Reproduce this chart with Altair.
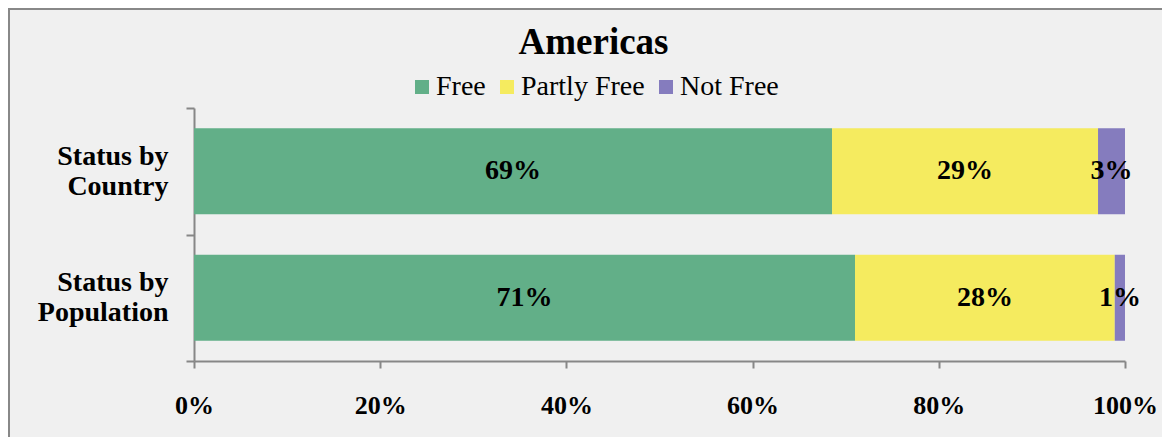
import altair as alt
import pandas as pd

categories = ["Status by Country", "Status by Population"]
statuses = ["Free", "Partly Free", "Not Free"]
country_values = [68.6, 28.6, 2.9]
population_values = [71.0, 27.9, 1.1]
colors = ["#62AF88", "#F5EB5F", "#857CBE"]
x_ticks = [0, 0.2, 0.4, 0.6, 0.8, 1.0]

rows = []
for cat, vals in zip(categories, [country_values, population_values]):
    for i, (s, v) in enumerate(zip(statuses, vals)):
        rows.append({"category": cat, "status": s, "order": i, "value": v})
df = pd.DataFrame(rows)

FONT = "Liberation Serif"
GRAY = "#878787"

base = alt.Chart(df).transform_stack(
    stack="value",
    groupby=["category"],
    as_=["v0", "v1"],
    sort=[alt.SortField("order", "ascending")],
    offset="normalize",
).transform_calculate(
    mid="(datum.v0 + datum.v1) / 2",
    label="format(round(datum.value), 'd') + '%'",
)

y_enc = alt.Y(
    "category:N",
    sort=categories,
    scale=alt.Scale(paddingInner=0, paddingOuter=0),
    axis=alt.Axis(
        title=None,
        tickBand="extent",
        tickSize=8,
        tickColor=GRAY,
        tickWidth=2,
        domainColor=GRAY,
        domainWidth=2,
        labelFont=FONT,
        labelFontSize=28,
        labelFontWeight="bold",
        labelColor="black",
        labelPadding=18,
        labelAlign="right",
        labelBaseline="middle",
        labelLineHeight=30,
        labelOffset=-15,
        labelExpr="datum.label ? ['Status by', replace(datum.label, 'Status by ', '')] : ''",
    ),
)

x_axis = alt.Axis(
    title=None,
    values=x_ticks,
    format=".0%",
    grid=False,
    tickSize=7,
    tickColor=GRAY,
    tickWidth=2,
    domainColor=GRAY,
    domainWidth=2,
    labelFont=FONT,
    labelFontSize=26,
    labelFontWeight="bold",
    labelColor="black",
    labelPadding=24,
    labelFlush=False,
)

bars = base.mark_bar(size=86).encode(
    y=y_enc,
    x=alt.X("v0:Q", scale=alt.Scale(domain=[0, 1], nice=False), axis=x_axis),
    x2=alt.X2("v1:Q"),
    color=alt.Color(
        "status:N",
        sort=statuses,
        scale=alt.Scale(domain=statuses, range=colors),
        legend=alt.Legend(
            title=None,
            orient="none",
            direction="horizontal",
            legendX=214,
            legendY=-35,
            symbolType="square",
            symbolSize=196,
            symbolStrokeWidth=0,
            labelFont=FONT,
            labelFontSize=28,
            labelColor="black",
            labelOffset=0,
            columnPadding=7,
            padding=0,
        ),
    ),
)

texts = base.mark_text(
    font=FONT, fontSize=28, fontWeight="bold", color="black", baseline="middle"
).encode(
    y=alt.Y("category:N", sort=categories),
    x=alt.X("mid:Q", scale=alt.Scale(domain=[0, 1], nice=False), axis=x_axis),
    text="label:N",
)

border = alt.Chart(alt.Data(values=[{}])).mark_rect(
    fillOpacity=0, stroke="#888888", strokeWidth=2
).encode(
    x=alt.value(-185), x2=alt.value(1200), y=alt.value(-99), y2=alt.value(600)
)

chart = alt.layer(border, bars, texts).properties(
    width=931,
    height=253,
    autosize=alt.AutoSizeParams(type="none"),
    padding={"left": 186, "top": 100, "right": 37, "bottom": 76},
    background="#f0f0f0",
    title=alt.Title(
        "Americas",
        font=FONT,
        fontSize=37,
        fontWeight="bold",
        color="black",
        anchor="middle",
        frame="group",
        baseline="alphabetic",
        dx=-66,
        dy=83,
        offset=0,
    ),
).configure_view(stroke=None)

chart.save("out.html", embed_options={"renderer": "svg", "actions": False})
